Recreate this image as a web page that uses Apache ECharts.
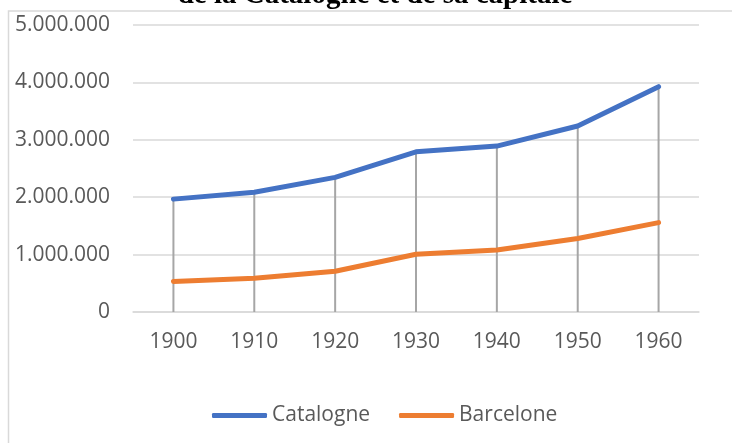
<!DOCTYPE html>
<html>
<head>
<meta charset="utf-8">
<script src="https://cdn.jsdelivr.net/npm/echarts@6/dist/echarts.min.js"></script>
<style>
html,body{margin:0;padding:0;background:#fff;}
#chart{width:732px;height:443px;}
</style>
</head>
<body>
<div id="chart"></div>
<script>
const years = ['1900','1910','1920','1930','1940','1950','1960'];
const catalogne = [1966382, 2084868, 2344719, 2791292, 2890974, 3240313, 3925779];
const barcelone = [533000, 587411, 710335, 1005565, 1081175, 1280179, 1557863];
const titleText = 'de la Catalogne et de sa capitale';

const font = '"Open Sans", "Liberation Sans", sans-serif';
const chart = echarts.init(document.getElementById('chart'));

function fmt(v){
  return String(v).replace(/\B(?=(\d{3})+(?!\d))/g, '.');
}

chart.setOption({
  animation: false,
  backgroundColor: '#ffffff',
  graphic: [
    {
      type: 'rect',
      shape: {x: 8.5, y: 11, width: 900, height: 600},
      style: {fill: 'none', stroke: '#d9d9d9', lineWidth: 1.5},
      silent: true
    },
    {
      type: 'text',
      x: 375, y: -4,
      style: {
        text: titleText,
        font: 'bold 29px "Liberation Serif", "Times New Roman", serif',
        fill: '#000000',
        align: 'center',
        verticalAlign: 'middle'
      },
      silent: true
    }
  ],
  grid: {left: 133, right: 33, top: 25, bottom: 131, containLabel: false},
  legend: {
    data: ['Catalogne', 'Barcelone'],
    icon: 'roundRect',
    left: 207,
    top: 400,
    itemWidth: 55,
    itemHeight: 5,
    itemGap: 29,
    textStyle: {fontFamily: font, fontSize: 21, color: '#595959'}
  },
  xAxis: {
    type: 'category',
    data: years,
    boundaryGap: true,
    axisLine: {show: true, lineStyle: {color: '#d9d9d9', width: 1.5}},
    axisTick: {show: false},
    axisLabel: {fontFamily: font, fontSize: 21, color: '#595959', margin: 20},
    splitLine: {show: false}
  },
  yAxis: {
    type: 'value',
    min: 0, max: 5000000, interval: 1000000,
    axisLine: {show: false},
    axisTick: {show: false},
    axisLabel: {fontFamily: font, fontSize: 21, color: '#595959', margin: 23, formatter: fmt},
    splitLine: {lineStyle: {color: '#d9d9d9', width: 1.5}}
  },
  series: [
    {
      name: 'drop',
      type: 'bar',
      data: catalogne,
      barWidth: 2,
      itemStyle: {color: '#a6a6a6'},
      z: 1,
      silent: true
    },
    {
      name: 'Catalogne',
      type: 'line',
      data: catalogne,
      symbol: 'none',
      lineStyle: {color: '#4472C4', width: 5, cap: 'round', join: 'round'},
      itemStyle: {color: '#4472C4'},
      z: 3
    },
    {
      name: 'Barcelone',
      type: 'line',
      data: barcelone,
      symbol: 'none',
      lineStyle: {color: '#ED7D31', width: 5, cap: 'round', join: 'round'},
      itemStyle: {color: '#ED7D31'},
      z: 3
    }
  ]
});
</script>
</body>
</html>
